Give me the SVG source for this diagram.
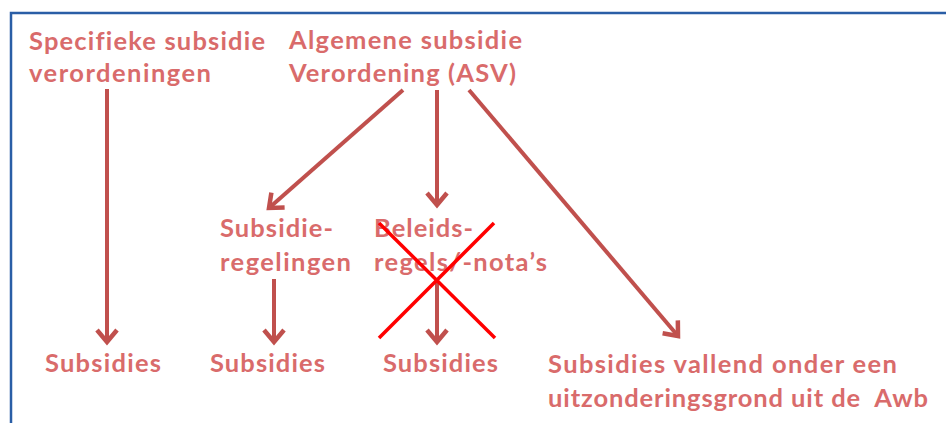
<svg xmlns="http://www.w3.org/2000/svg" width="946" height="423" viewBox="0 0 946 423">
<style>
.t{font-family:Lato,"Open Sans","Liberation Sans",sans-serif;font-weight:bold;font-size:25.5px;fill:#d96b6b;font-variant-ligatures:none;white-space:pre}
.c{stroke:#c0504d;stroke-width:4;fill:none;marker-end:url(#ah)}
.x{stroke:#ff0000;stroke-width:3.5;fill:none}
</style>
<defs>
<marker id="ah" markerUnits="userSpaceOnUse" markerWidth="30" markerHeight="30" viewBox="-16 -15 20 30" refX="0" refY="0" orient="auto" overflow="visible">
<path d="M-12,-10 L0,0 L-12,10" fill="none" stroke="#c0504d" stroke-width="4.5" stroke-linejoin="miter"/>
</marker>
</defs>
<rect x="0" y="0" width="946" height="423" fill="#ffffff"/>
<path d="M11,423 V13 H946" fill="none" stroke="#2a5ea6" stroke-width="2.5"/>
<g id="n-specifieke">
<text class="t" x="29" y="50" textLength="236" lengthAdjust="spacing">Specifieke subsidie</text>
<text class="t" x="29" y="82" textLength="182" lengthAdjust="spacing">verordeningen</text>
</g>
<g id="n-asv">
<text class="t" x="289" y="49" textLength="233" lengthAdjust="spacing">Algemene subsidie</text>
<text class="t" x="289" y="82" textLength="227" lengthAdjust="spacing">Verordening (ASV)</text>
</g>
<g id="n-regelingen">
<text class="t" x="220" y="237" textLength="113" lengthAdjust="spacing">Subsidie-</text>
<text class="t" x="220" y="271" textLength="131" lengthAdjust="spacing">regelingen</text>
</g>
<g id="n-beleid">
<text class="t" x="374" y="237" textLength="99" lengthAdjust="spacing">Beleids-</text>
<text class="t" x="374" y="271" textLength="173" lengthAdjust="spacing">regels/-nota’s</text>
</g>
<g id="n-sub1"><text class="t" x="45" y="372" textLength="116" lengthAdjust="spacing">Subsidies</text></g>
<g id="n-sub2"><text class="t" x="210" y="372" textLength="115" lengthAdjust="spacing">Subsidies</text></g>
<g id="n-sub3"><text class="t" x="383" y="372" textLength="115" lengthAdjust="spacing">Subsidies</text></g>
<g id="n-awb">
<text class="t" x="548" y="373" textLength="349" lengthAdjust="spacing">Subsidies vallend onder een</text>
<text class="t" x="548" y="407" textLength="380" lengthAdjust="spacing">uitzonderingsgrond uit de  Awb</text>
</g>
<g id="connectors">
<line class="c" x1="107" y1="89" x2="107" y2="342"/>
<line class="c" x1="403" y1="90" x2="269" y2="208"/>
<line class="c" x1="437" y1="90" x2="437" y2="205"/>
<line class="c" x1="469" y1="90" x2="678" y2="336"/>
<line class="c" x1="274" y1="279" x2="274" y2="342"/>
<line class="c" x1="437" y1="282" x2="437" y2="342"/>
</g>
<g id="cross">
<line class="x" x1="379" y1="223" x2="495" y2="338"/>
<line class="x" x1="494" y1="223" x2="379" y2="338"/>
</g>
</svg>
